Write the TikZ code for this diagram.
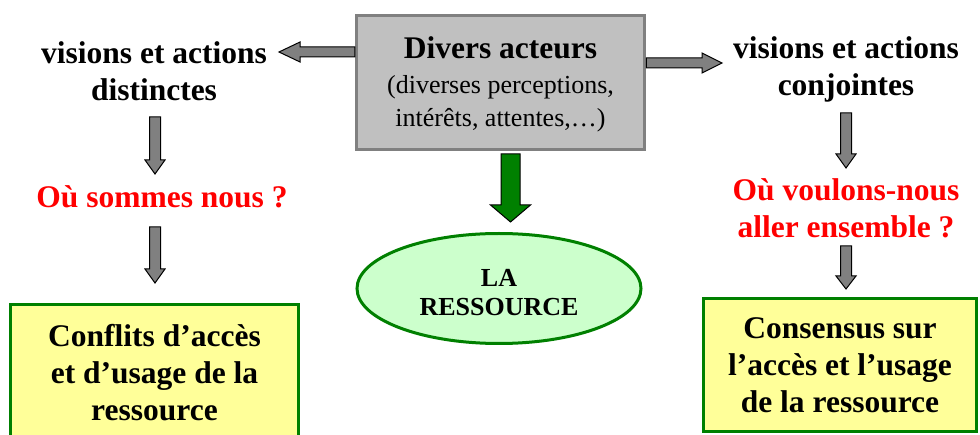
\documentclass[tikz,border=0pt]{standalone}
\usepackage{fontspec}
\setmainfont{Liberation Serif}
\usetikzlibrary{calc,shapes.geometric}
\definecolor{boxgray}{HTML}{C0C0C0}
\definecolor{edgegray}{HTML}{808080}
\definecolor{arrgray}{HTML}{808080}
\definecolor{dgreen}{HTML}{008000}
\definecolor{lgreen}{HTML}{CCFFCC}
\definecolor{lyellow}{HTML}{FFFF99}
\definecolor{myred}{HTML}{FF0000}
% #1 style, #2 start, #3 tip, #4 half shaft, #5 half head, #6 head length
\newcommand\blockarr[6]{%
  \coordinate (hb) at ($(#3)!#6!(#2)$);
  \draw[#1] ($(#2)!#4!90:(#3)$) -- ($(hb)!#4!90:(#3)$) -- ($(hb)!#5!90:(#3)$) -- (#3)
    -- ($(hb)!#5!-90:(#3)$) -- ($(hb)!#4!-90:(#3)$) -- ($(#2)!#4!-90:(#3)$) -- cycle;}
\begin{document}
\begin{tikzpicture}[x=1pt,y=-1pt,
  big/.style={font=\fontsize{31.5}{37}\selectfont\bfseries, align=center, inner sep=0pt},
  redtxt/.style={big, text=myred},
  actbox/.style={draw=edgegray, line width=3.5pt, fill=boxgray, minimum width=288pt, minimum height=134pt, inner sep=0pt, align=center},
  ybox/.style={draw=dgreen, line width=3pt, fill=lyellow, inner sep=0pt, align=center, font=\fontsize{31.5}{37}\selectfont\bfseries},
  res/.style={ellipse, draw=dgreen, line width=3pt, fill=lgreen, minimum width=284pt, minimum height=110pt, inner sep=0pt},
  restxt/.style={align=center, inner sep=0pt, font=\fontsize{26}{29}\selectfont\bfseries},
  grayarr/.style={fill=arrgray, draw=black, line width=1pt, line join=miter},
  greenarr/.style={fill=dgreen, draw=black, line width=1pt, line join=miter}]
\useasboundingbox (0,0) rectangle (980,435);
\clip (0,0) rectangle (980,435);

% central box
\node[actbox] (act) at (500.5,82.5) {};
\node[font=\fontsize{31.5}{37}\selectfont\bfseries, anchor=base, inner sep=0pt] (actT) at (500.5,58.5) {Divers acteurs};
\node[font=\fontsize{26}{33}\selectfont, align=center, anchor=base, inner sep=0pt] (actS) at (500.5,126.5) {(diverses perceptions,\\intérêts, attentes,…)};

% resource
\node[res] (res) at (499,288.5) {};
\node[restxt] (resT) at (499,293) {LA\\RESSOURCE};

% left column
\node[big] (visL) at (154,71) {visions et actions\\distinctes};
\node[redtxt] (ouL) at (162,197) {Où sommes nous ?};
\node[ybox, minimum width=288pt, minimum height=136pt] (conf) at (154.5,372.5) {Conflits d’accès\\et d’usage de la\\ressource};

% right column
\node[big] (visR) at (846,69) {visions et actions\\conjointes};
\node[redtxt] (ouR) at (846,208) {Où voulons-nous\\aller ensemble ?};
\node[ybox, minimum width=273pt, minimum height=133pt] (cons) at (840,365) {Consensus sur\\l’accès et l’usage\\de la ressource};

% arrow coordinates
\coordinate (aLs) at (act.west |- 0,52);
\coordinate (aLt) at (279,52);
\coordinate (aRs) at (act.east |- 0,63);
\coordinate (aRt) at (722,63);
\coordinate (gS) at (510.5,154);
\coordinate (gT) at (510.5,222);
\coordinate (l1s) at (155,117);
\coordinate (l1t) at (155,174);
\coordinate (l2s) at (155,227);
\coordinate (l2t) at (155,283);
\coordinate (r1s) at (846,113);
\coordinate (r1t) at (846,168);
\coordinate (r2s) at (846,246);
\coordinate (r2t) at (846,289);

\blockarr{grayarr}{aLs}{aLt}{5pt}{10pt}{21pt}
\blockarr{grayarr}{aRs}{aRt}{5pt}{10pt}{20pt}
\blockarr{greenarr}{gS}{gT}{9.5pt}{20pt}{17pt}
\blockarr{grayarr}{l1s}{l1t}{5.5pt}{10pt}{14pt}
\blockarr{grayarr}{l2s}{l2t}{5.5pt}{10pt}{14pt}
\blockarr{grayarr}{r1s}{r1t}{5.5pt}{10pt}{14pt}
\blockarr{grayarr}{r2s}{r2t}{5.5pt}{10pt}{13pt}
\end{tikzpicture}
\end{document}
